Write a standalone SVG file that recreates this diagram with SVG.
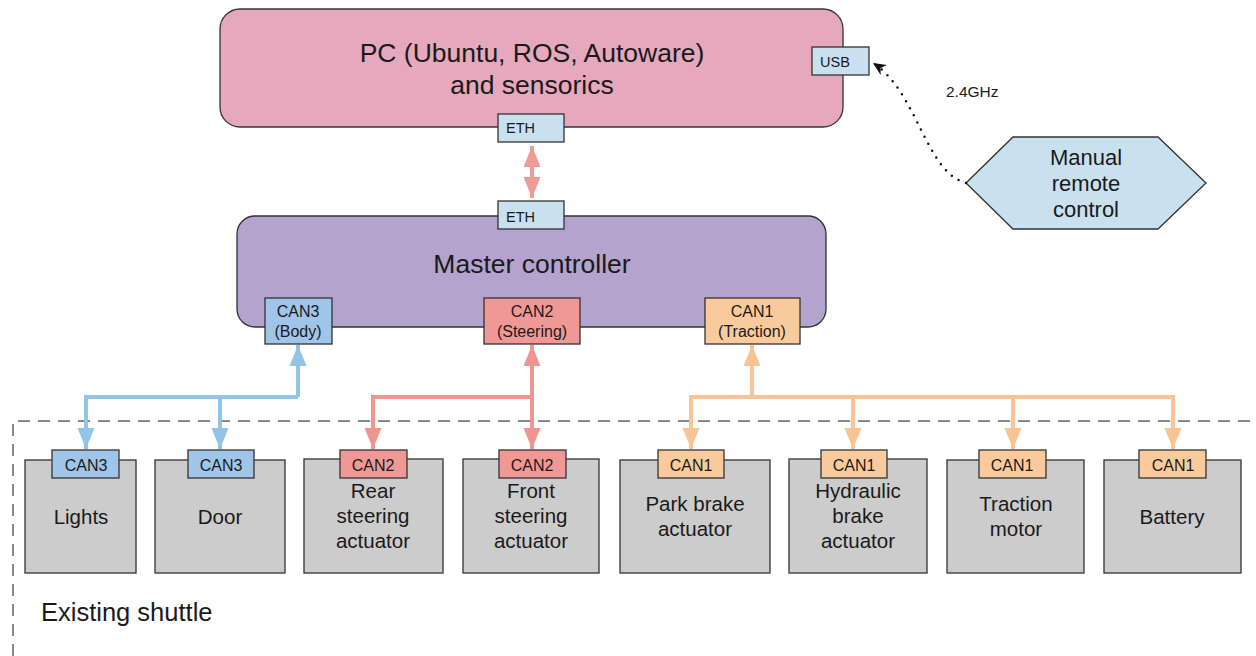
<svg xmlns="http://www.w3.org/2000/svg" width="1256" height="656" viewBox="0 0 1256 656">
  <style>
    text { font-family: "Liberation Sans", Arial, sans-serif; fill: #1a1a1a; }
    .big { font-size: 26.5px; text-anchor: middle; }
    .mid { font-size: 20.5px; text-anchor: middle; }
    .hex { font-size: 22px; text-anchor: middle; }
    .tag { font-size: 16px; text-anchor: middle; }
    .mtag { font-size: 16px; text-anchor: middle; }
    .port { font-size: 14.5px; }
    .box { stroke: #333; stroke-width: 1.3; }
    .dev { fill: #cccccc; stroke: #333; stroke-width: 1.3; }
    .lb { fill: #c9e0ef; }
    .blue { fill: #9fc5e8; }
    .red { fill: #f09896; }
    .orange { fill: #f9cb9c; }
    .bus { fill: none; stroke-width: 4; stroke-linejoin: miter; }
  </style>
  <defs>
    <marker id="ahBlue" markerUnits="userSpaceOnUse" markerWidth="22" markerHeight="18" refX="21" refY="8.5" orient="auto">
      <path d="M0,0 L21,8.5 L0,17 z" fill="#93c3e6"/>
    </marker>
    <marker id="ahRed" markerUnits="userSpaceOnUse" markerWidth="22" markerHeight="18" refX="21" refY="8.5" orient="auto">
      <path d="M0,0 L21,8.5 L0,17 z" fill="#ef9590"/>
    </marker>
    <marker id="ahOrange" markerUnits="userSpaceOnUse" markerWidth="22" markerHeight="18" refX="21" refY="8.5" orient="auto">
      <path d="M0,0 L21,8.5 L0,17 z" fill="#f8c493"/>
    </marker>
    <marker id="ahEth" markerUnits="userSpaceOnUse" markerWidth="22" markerHeight="18" refX="21" refY="8.5" orient="auto-start-reverse">
      <path d="M0,0 L21,8.5 L0,17 z" fill="#ee9a95"/>
    </marker>
    <marker id="ahBlack" markerUnits="userSpaceOnUse" markerWidth="14" markerHeight="12" refX="13" refY="6" orient="auto">
      <path d="M0,0 L13,6 L0,12 L4,6 z" fill="#111"/>
    </marker>
  </defs>

  <!-- shuttle boundary -->
  <g id="shuttle">
    <path d="M13,656 L13,421 L1256,421" fill="none" stroke="#8a8a8a" stroke-width="2" stroke-dasharray="12 8"/>
    <text x="41" y="621" style="font-size:25.5px">Existing shuttle</text>
  </g>

  <!-- PC -->
  <g id="pc">
    <rect x="220" y="9" width="623" height="118" rx="20" fill="#e6a8bc" class="box"/>
    <text x="532" y="62" class="big">PC (Ubuntu, ROS, Autoware)</text>
    <text x="532" y="94" class="big">and sensorics</text>
    <rect x="498" y="114" width="66" height="28" class="box lb"/>
    <text x="506" y="133" class="port">ETH</text>
    <rect x="812" y="47" width="57" height="28" class="box lb"/>
    <text x="820" y="67" class="port">USB</text>
  </g>

  <!-- remote control -->
  <g id="remote">
    <polygon points="966,183 1013,137 1158,137 1206,183 1158,229 1013,229" class="box lb"/>
    <text x="1086" y="165" class="hex">Manual</text>
    <text x="1086" y="191" class="hex">remote</text>
    <text x="1086" y="217" class="hex">control</text>
  </g>

  <!-- master controller -->
  <g id="master">
    <rect x="237" y="216" width="589" height="111" rx="18" fill="#b4a3cc" class="box"/>
    <text x="532" y="273" class="big">Master controller</text>
    <rect x="498" y="201" width="66" height="28" class="box lb"/>
    <text x="506" y="222" class="port">ETH</text>
    <rect x="265" y="298" width="67" height="46" class="box blue"/>
    <text x="298" y="317" class="mtag">CAN3</text>
    <text x="298" y="337" class="mtag">(Body)</text>
    <rect x="484" y="298" width="96" height="46" class="box red"/>
    <text x="532" y="317" class="mtag">CAN2</text>
    <text x="532" y="337" class="mtag">(Steering)</text>
    <rect x="705" y="298" width="95" height="46" class="box orange"/>
    <text x="752" y="317" class="mtag">CAN1</text>
    <text x="752" y="337" class="mtag">(Traction)</text>
  </g>

  <!-- devices -->
  <g id="lights">
    <rect x="25" y="460" width="111" height="113" class="dev"/>
    <rect x="52" y="450" width="67" height="28" class="box blue"/>
    <text x="86" y="471" class="tag">CAN3</text>
    <text x="81" y="524" class="mid">Lights</text>
  </g>
  <g id="door">
    <rect x="155" y="460" width="130" height="113" class="dev"/>
    <rect x="188" y="450" width="66" height="28" class="box blue"/>
    <text x="221" y="471" class="tag">CAN3</text>
    <text x="220" y="524" class="mid">Door</text>
  </g>
  <g id="rear-steering">
    <rect x="304" y="459" width="139" height="114" class="dev"/>
    <rect x="340" y="450" width="67" height="28" class="box red"/>
    <text x="373" y="471" class="tag">CAN2</text>
    <text x="373" y="498" class="mid">Rear</text>
    <text x="373" y="523" class="mid">steering</text>
    <text x="373" y="548" class="mid">actuator</text>
  </g>
  <g id="front-steering">
    <rect x="463" y="459" width="136" height="114" class="dev"/>
    <rect x="499" y="450" width="67" height="28" class="box red"/>
    <text x="532" y="471" class="tag">CAN2</text>
    <text x="531" y="498" class="mid">Front</text>
    <text x="531" y="523" class="mid">steering</text>
    <text x="531" y="548" class="mid">actuator</text>
  </g>
  <g id="park-brake">
    <rect x="620" y="460" width="150" height="113" class="dev"/>
    <rect x="658" y="450" width="66" height="28" class="box orange"/>
    <text x="691" y="471" class="tag">CAN1</text>
    <text x="695" y="511" class="mid">Park brake</text>
    <text x="695" y="536" class="mid">actuator</text>
  </g>
  <g id="hydraulic-brake">
    <rect x="789" y="459" width="138" height="114" class="dev"/>
    <rect x="821" y="450" width="66" height="28" class="box orange"/>
    <text x="854" y="471" class="tag">CAN1</text>
    <text x="858" y="498" class="mid">Hydraulic</text>
    <text x="858" y="523" class="mid">brake</text>
    <text x="858" y="548" class="mid">actuator</text>
  </g>
  <g id="traction-motor">
    <rect x="947" y="460" width="137" height="113" class="dev"/>
    <rect x="979" y="450" width="67" height="28" class="box orange"/>
    <text x="1012" y="471" class="tag">CAN1</text>
    <text x="1016" y="511" class="mid">Traction</text>
    <text x="1016" y="536" class="mid">motor</text>
  </g>
  <g id="battery">
    <rect x="1104" y="460" width="137" height="113" class="dev"/>
    <rect x="1139" y="450" width="67" height="28" class="box orange"/>
    <text x="1173" y="471" class="tag">CAN1</text>
    <text x="1172" y="524" class="mid">Battery</text>
  </g>

  <!-- connectors -->
  <g id="connectors">
    <path d="M532,146 L532,198" fill="none" stroke="#ee9a95" stroke-width="4" marker-start="url(#ahEth)" marker-end="url(#ahEth)"/>
    <path d="M966,183 C925,172 918,92 873,63" fill="none" stroke="#111" stroke-width="2.5" stroke-linecap="round" stroke-dasharray="0 8" marker-end="url(#ahBlack)"/>
    <text x="946" y="97" style="font-size:15.5px">2.4GHz</text>

    <g stroke="#93c3e6" class="bus">
      <path d="M298,397 L298,345" marker-end="url(#ahBlue)"/>
      <path d="M298,397 L86,397 L86,449" marker-end="url(#ahBlue)"/>
      <path d="M220,397 L220,449" marker-end="url(#ahBlue)"/>
    </g>
    <g stroke="#ef9590" class="bus">
      <path d="M532,397 L532,345" marker-end="url(#ahRed)"/>
      <path d="M532,397 L373,397 L373,449" marker-end="url(#ahRed)"/>
      <path d="M532,397 L532,449" marker-end="url(#ahRed)"/>
    </g>
    <g stroke="#f8c493" class="bus">
      <path d="M752,397 L752,345" marker-end="url(#ahOrange)"/>
      <path d="M752,397 L691,397 L691,449" marker-end="url(#ahOrange)"/>
      <path d="M752,397 L1173,397 L1173,449" marker-end="url(#ahOrange)"/>
      <path d="M853,397 L853,449" marker-end="url(#ahOrange)"/>
      <path d="M1013,397 L1013,449" marker-end="url(#ahOrange)"/>
    </g>
  </g>
</svg>
